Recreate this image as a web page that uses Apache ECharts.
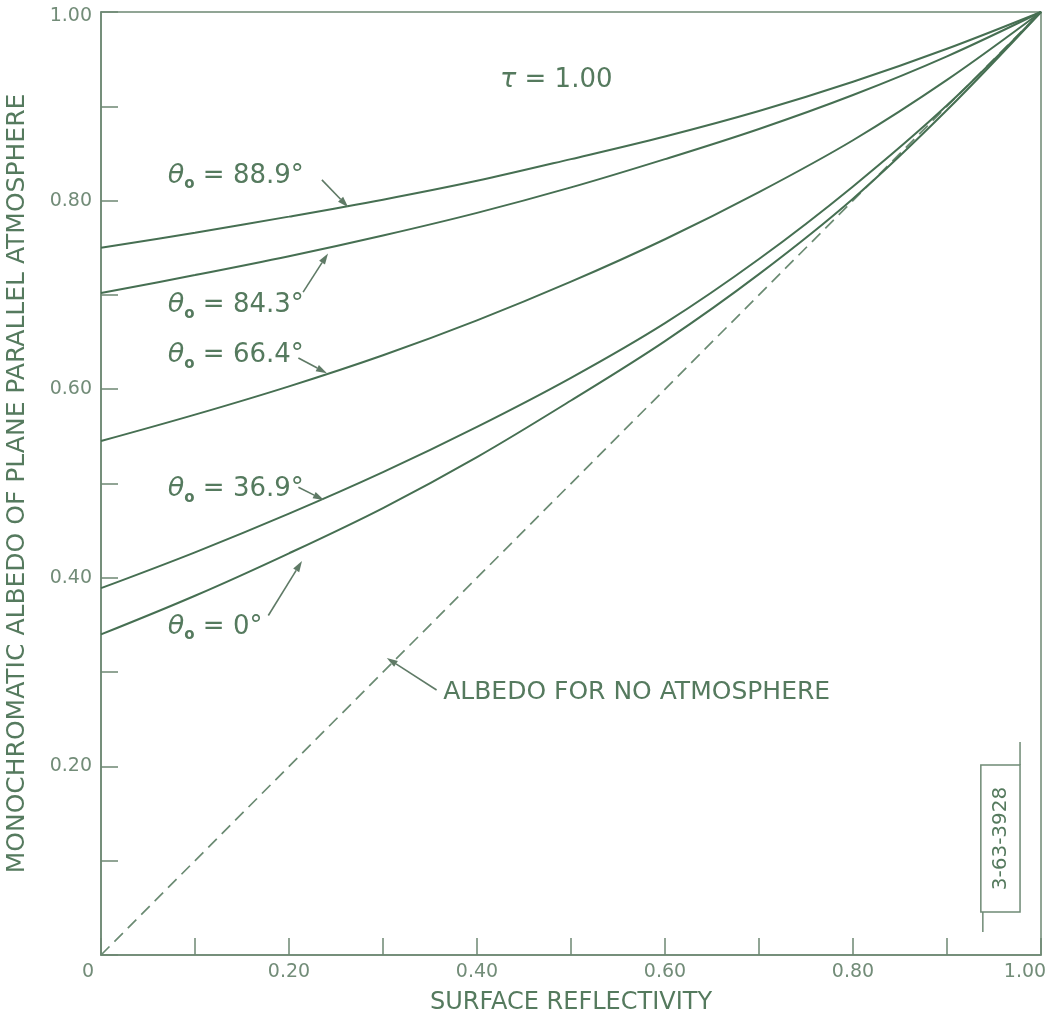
<!DOCTYPE html>
<html>
<head>
<meta charset="utf-8">
<script src="https://cdn.jsdelivr.net/npm/echarts@6/dist/echarts.min.js"></script>
<style>
html,body{margin:0;padding:0;background:#fff;overflow:hidden;}
#chart{width:1052px;height:1020px;}
</style>
</head>
<body>
<div id="chart"></div>
<script>
// ---- data ----
const reflectivity = [0, 0.1, 0.2, 0.3, 0.4, 0.5, 0.6, 0.7, 0.8, 0.9, 1.0];
const albedo889 = [0.750, 0.766, 0.783, 0.801, 0.821, 0.844, 0.868, 0.895, 0.926, 0.961, 1.0];
const albedo843 = [0.702, 0.721, 0.741, 0.763, 0.787, 0.814, 0.844, 0.876, 0.912, 0.953, 1.0];
const albedo664 = [0.545, 0.573, 0.603, 0.636, 0.673, 0.714, 0.759, 0.809, 0.864, 0.928, 1.0];
const albedo369 = [0.389, 0.427, 0.468, 0.512, 0.560, 0.612, 0.670, 0.738, 0.815, 0.901, 1.0];
const albedo0   = [0.340, 0.381, 0.426, 0.474, 0.528, 0.588, 0.651, 0.722, 0.802, 0.896, 1.0];
const noAtmosphereX = [0, 1];
const noAtmosphereY = [0, 1];
const xTickLabels = ['0', '0.20', '0.40', '0.60', '0.80', '1.00'];
const yTickLabels = ['0.20', '0.40', '0.60', '0.80', '1.00'];
const angleLabels = ['88.9°', '84.3°', '66.4°', '36.9°', '0°'];
// annotation anchors in data space: label left/center, arrow tail, arrow tip
const labelPos = [[0.071, 0.826], [0.071, 0.689], [0.071, 0.636], [0.071, 0.494], [0.071, 0.348]];
const arrowTail = [[0.235, 0.822], [0.215, 0.703], [0.210, 0.633], [0.210, 0.496], [0.178, 0.360]];
const arrowTip  = [[0.263, 0.793], [0.2415, 0.744], [0.2404, 0.617], [0.2372, 0.4825], [0.2138, 0.4178]];
const noAtmLabel = 'ALBEDO FOR NO ATMOSPHERE';
const noAtmLabelPos = [0.364, 0.278];
const noAtmTail = [0.357, 0.281];
const noAtmTip = [0.304, 0.315];
const tauLabelPos = [0.4245, 0.928];
const stampText = '3-63-3928';

const LINE = '#466f52';
const AXIS = '#6d8873';
const TEXT = '#557a5e';
const TICKTXT = '#728c78';
const FONT = 'DejaVu Sans';

function pairs(xs, ys) { return xs.map((x, i) => [x, ys[i]]); }
function fmtX(v) {
  const k = Math.round(v * 10);
  if (k % 2 !== 0) return '';
  const s = k === 0 ? '0' : (k / 10).toFixed(2);
  if (xTickLabels.indexOf(s) < 0) return '';
  if (k === 0) return '{z|0}';
  if (k === 10) return '{m|' + s + '}';
  return s;
}
function fmtY(v) {
  const k = Math.round(v * 10);
  if (k === 0 || k % 2) return '';
  const s = (k / 10).toFixed(2);
  if (yTickLabels.indexOf(s) < 0) return '';
  return k === 10 ? '{m|' + s + '}' : s;
}

const chart = echarts.init(document.getElementById('chart'), null, {renderer: 'canvas', width: 1052, height: 1020});
const curveStyle = {color: LINE, width: 2};
function curve(name, ys) {
  return {name, type: 'line', data: pairs(reflectivity, ys), smooth: 0.35, showSymbol: false,
          lineStyle: curveStyle, itemStyle: {color: LINE}, silent: true, z: 3};
}
const tickFont = {color: TICKTXT, fontFamily: FONT, fontSize: 19};
chart.setOption({
  animation: false,
  backgroundColor: '#fff',
  grid: {left: 101, right: 11, top: 12, bottom: 65, containLabel: false, outerBoundsMode: 'none',
         show: true, borderColor: AXIS, borderWidth: 1.5, backgroundColor: 'transparent'},
  xAxis: {
    type: 'value', min: 0, max: 1, interval: 0.1,
    name: 'SURFACE REFLECTIVITY', nameLocation: 'middle', nameGap: 36,
    nameTextStyle: {color: TEXT, fontFamily: FONT, fontSize: 24},
    axisLine: {lineStyle: {color: AXIS, width: 1.5}},
    axisTick: {inside: true, length: 17, lineStyle: {color: AXIS, width: 1.5}},
    axisLabel: Object.assign({}, tickFont, {margin: 8, formatter: fmtX, showMinLabel: true, showMaxLabel: true,
      rich: {z: Object.assign({}, tickFont, {padding: [0, 26, 0, 0]}),
             m: Object.assign({}, tickFont, {padding: [0, 32, 0, 0]})}}),
    splitLine: {show: false}
  },
  yAxis: {
    type: 'value', min: 0, max: 1, interval: 0.1,
    name: 'MONOCHROMATIC ALBEDO OF PLANE PARALLEL ATMOSPHERE', nameLocation: 'middle', nameGap: 71,
    nameTextStyle: {color: TEXT, fontFamily: FONT, fontSize: 25},
    axisLine: {lineStyle: {color: AXIS, width: 1.5}},
    axisTick: {inside: true, length: 17, lineStyle: {color: AXIS, width: 1.5}},
    axisLabel: Object.assign({}, tickFont, {margin: 9, formatter: fmtY, showMaxLabel: true,
      rich: {m: Object.assign({}, tickFont, {padding: [8, 0, 0, 0]})}}),
    splitLine: {show: false}
  },
  series: [
    curve('88.9', albedo889),
    curve('84.3', albedo843),
    curve('66.4', albedo664),
    curve('36.9', albedo369),
    curve('0', albedo0),
    {name: 'none', type: 'line', data: pairs(noAtmosphereX, noAtmosphereY), showSymbol: false, silent: true,
     lineStyle: {color: '#6a8a72', width: 1.7, type: [12, 7]}, z: 2}
  ]
});

function px(p) { return chart.convertToPixel({gridIndex: 0}, p); }
function arrow(a, b) {
  const p = px(a), q = px(b);
  const dx = q[0] - p[0], dy = q[1] - p[1], L = Math.hypot(dx, dy);
  const ux = dx / L, uy = dy / L, h = 11, w = 3.5;
  const bx = q[0] - ux * h, by = q[1] - uy * h;
  return [
    {type: 'line', shape: {x1: p[0], y1: p[1], x2: bx, y2: by}, style: {stroke: '#5f7a66', lineWidth: 1.6}, z: 10},
    {type: 'polygon', shape: {points: [[q[0], q[1]], [bx - uy * w, by + ux * w], [bx + uy * w, by - ux * w]]},
     style: {fill: '#5f7a66'}, z: 10}
  ];
}
const g = [];
const rich = {
  t: {fontFamily: FONT, fontSize: 27, fontStyle: 'italic', fill: TEXT, lineHeight: 32},
  s: {fontFamily: FONT, fontSize: 15, fontWeight: 'bold', fill: TEXT, lineHeight: 32, verticalAlign: 'bottom'},
  n: {fontFamily: FONT, fontSize: 26, fill: TEXT, lineHeight: 32}
};
angleLabels.forEach((lab, i) => {
  const p = px(labelPos[i]);
  g.push({type: 'text', x: p[0], y: p[1], z: 10,
          style: {text: '{t|θ}{s|o}{n| = ' + lab + '}', rich, fill: TEXT, align: 'left', verticalAlign: 'middle'}});
  g.push(...arrow(arrowTail[i], arrowTip[i]));
});
const pn = px(noAtmLabelPos);
g.push({type: 'text', x: pn[0], y: pn[1], z: 10,
        style: {text: noAtmLabel, fill: TEXT, fontFamily: FONT, fontSize: 25, align: 'left', verticalAlign: 'middle'}});
g.push(...arrow(noAtmTail, noAtmTip));
const pt = px(tauLabelPos);
g.push({type: 'text', x: pt[0], y: pt[1], z: 10,
        style: {text: '{t|τ}{n| = 1.00}', rich: {
          t: {fontFamily: FONT, fontSize: 27, fontStyle: 'italic', fill: TEXT},
          n: {fontFamily: FONT, fontSize: 26, fill: TEXT}}, align: 'left', verticalAlign: 'middle'}});
// stamp box
const b1 = px([0.936, 0.2015]), b2 = px([0.9777, 0.0456]);
const l1a = px([0.9777, 0.2259]), l2b = px([0.9383, 0.0244]);
g.push({type: 'rect', shape: {x: b1[0], y: b1[1], width: b2[0] - b1[0], height: b2[1] - b1[1]},
        style: {fill: 'transparent', stroke: '#6f8a75', lineWidth: 1.5}, z: 10});
g.push({type: 'line', shape: {x1: l1a[0], y1: l1a[1], x2: b2[0], y2: b1[1]}, style: {stroke: '#6f8a75', lineWidth: 1.5}, z: 10});
g.push({type: 'line', shape: {x1: b1[0] + 2, y1: b2[1], x2: b1[0] + 2, y2: l2b[1]}, style: {stroke: '#6f8a75', lineWidth: 1.5}, z: 10});
g.push({type: 'text', x: (b1[0] + b2[0]) / 2, y: (b1[1] + b2[1]) / 2, rotation: Math.PI / 2, z: 10,
        style: {text: stampText, fill: TEXT, fontFamily: FONT, fontSize: 20, align: 'center', verticalAlign: 'middle'}});
chart.setOption({graphic: g});
</script>
</body>
</html>
